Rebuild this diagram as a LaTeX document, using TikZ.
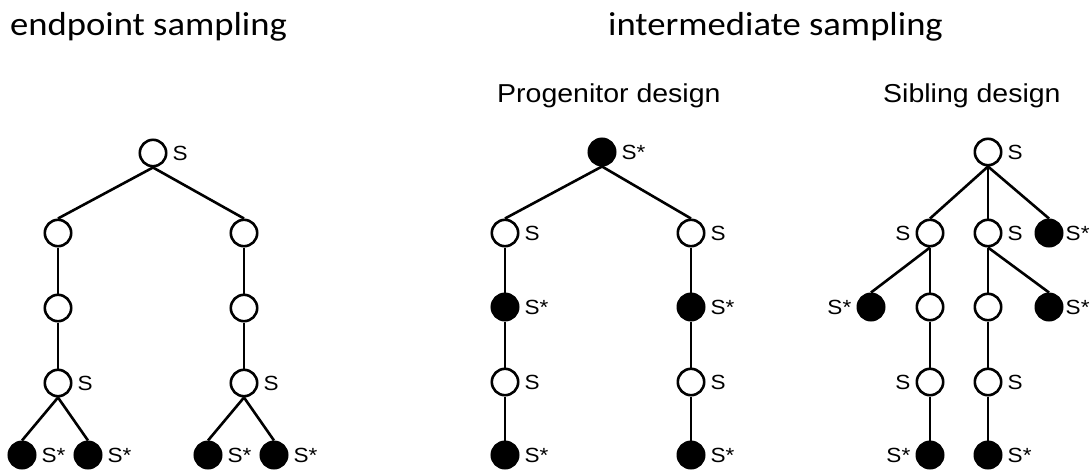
\documentclass[tikz,border=0pt]{standalone}
\usepackage{fontspec}
\newfontfamily\titlefont[FakeStretch=1.1]{Carlito}
\newfontfamily\arialfont[FakeStretch=1.1]{Liberation Sans}
\begin{document}
\begin{tikzpicture}[x=1pt,y=-1pt,
  nd/.style={circle,draw,line width=2.6pt,minimum size=26.4pt,inner sep=0pt,fill=white},
  fd/.style={nd,fill=black},
  lbl/.style={font=\arialfont\fontsize{20.5}{22}\selectfont,inner sep=1pt},
  rl/.style={label={[lbl,label distance=4pt]right:#1}},
  rlt/.style={label={[lbl,label distance=1pt]right:#1}},
  ll/.style={label={[lbl,label distance=4pt]left:#1}},
  ttl/.style={font=\titlefont\fontsize{33.3}{36}\selectfont,anchor=base west,inner sep=0pt},
  sub/.style={font=\arialfont\fontsize{25.9}{28}\selectfont,anchor=base west,inner sep=0pt},
  edge/.style={line width=2.6pt}]
\useasboundingbox (0,0) rectangle (1090,472);

% titles
\node[ttl] (t1) at (10,35) {endpoint sampling};
\node[ttl] (t2) at (608,35) {intermediate sampling};
\node[sub] (s1) at (497,102.5) {Progenitor design};
\node[sub] (s2) at (883,102.5) {Sibling design};

% endpoint sampling tree
\node[nd,rl=S] (e0) at (153,153) {};
\node[nd] (ea1) at (58,233) {};
\node[nd] (ea2) at (58,308) {};
\node[nd,rl=S] (ea3) at (58,383) {};
\node[nd] (eb1) at (244,233) {};
\node[nd] (eb2) at (244,308) {};
\node[nd,rl=S] (eb3) at (244,383) {};
\node[fd,rl=S*] (el1) at (22,455) {};
\node[fd,rl=S*] (el2) at (88,455) {};
\node[fd,rl=S*] (el3) at (208,455) {};
\node[fd,rl=S*] (el4) at (274,455) {};
\draw[edge] (e0.south) -- (ea1.north);
\draw[edge] (e0.south) -- (eb1.north);
\draw[edge] (ea1.south) -- (ea2.north);
\draw[edge] (ea2.south) -- (ea3.north);
\draw[edge] (eb1.south) -- (eb2.north);
\draw[edge] (eb2.south) -- (eb3.north);
\draw[edge] (ea3.south) -- (el1.north);
\draw[edge] (ea3.south) -- (el2.north);
\draw[edge] (eb3.south) -- (el3.north);
\draw[edge] (eb3.south) -- (el4.north);

% progenitor design
\node[fd,rl=S*] (p0) at (602,152) {};
\node[nd,rl=S] (pa1) at (505,233) {};
\node[fd,rl=S*] (pa2) at (505,307) {};
\node[nd,rl=S] (pa3) at (505,382) {};
\node[fd,rl=S*] (pa4) at (505,455) {};
\node[nd,rl=S] (pb1) at (691,233) {};
\node[fd,rl=S*] (pb2) at (691,307) {};
\node[nd,rl=S] (pb3) at (691,382) {};
\node[fd,rl=S*] (pb4) at (691,455) {};
\draw[edge] (p0.south) -- (pa1.north);
\draw[edge] (p0.south) -- (pb1.north);
\draw[edge] (pa1.south) -- (pa2.north);
\draw[edge] (pa2.south) -- (pa3.north);
\draw[edge] (pa3.south) -- (pa4.north);
\draw[edge] (pb1.south) -- (pb2.north);
\draw[edge] (pb2.south) -- (pb3.north);
\draw[edge] (pb3.south) -- (pb4.north);

% sibling design
\node[nd,rl=S] (q0) at (988,152) {};
\node[nd,ll=S] (qa1) at (930,233) {};
\node[nd,rl=S] (qb1) at (988,233) {};
\node[fd,rlt=S*] (qc1) at (1049,233) {};
\node[fd,ll=S*] (qa0) at (871,307) {};
\node[nd] (qa2) at (930,307) {};
\node[nd] (qb2) at (988,307) {};
\node[fd,rlt=S*] (qb0) at (1049,307) {};
\node[nd,ll=S] (qa3) at (930,382) {};
\node[nd,rl=S] (qb3) at (988,382) {};
\node[fd,ll=S*] (qa4) at (930,455) {};
\node[fd,rl=S*] (qb4) at (988,455) {};
\draw[edge] (q0.south) -- (qa1.north);
\draw[edge] (q0.south) -- (qb1.north);
\draw[edge] (q0.south) -- (qc1.north);
\draw[edge] (qa1.south) -- (qa0.north);
\draw[edge] (qa1.south) -- (qa2.north);
\draw[edge] (qa2.south) -- (qa3.north);
\draw[edge] (qa3.south) -- (qa4.north);
\draw[edge] (qb1.south) -- (qb2.north);
\draw[edge] (qb1.south) -- (qb0.north);
\draw[edge] (qb2.south) -- (qb3.north);
\draw[edge] (qb3.south) -- (qb4.north);
\end{tikzpicture}
\end{document}
